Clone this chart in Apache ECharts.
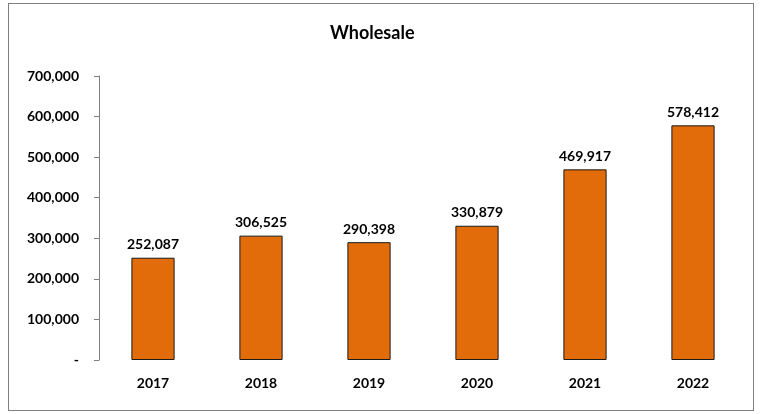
<!DOCTYPE html>
<html><head><meta charset="utf-8">
<script src="https://cdn.jsdelivr.net/npm/echarts@6/dist/echarts.min.js"></script>
<style>html,body{margin:0;padding:0;background:#fff}#c{width:760px;height:414px}
#frame{position:absolute;left:8px;top:3px;width:746px;height:408px;border:1px solid #7f7f7f;box-sizing:border-box;pointer-events:none}</style>
</head><body><div id="c"></div><div id="frame"></div>
<script>
const categories = ['2017','2018','2019','2020','2021','2022'];
const wholesale = [252087, 306525, 290398, 330879, 469917, 578412];
const yTicks = [0, 100000, 200000, 300000, 400000, 500000, 600000, 700000];
const title = 'Wholesale';
const FONT = 'Lato, "Open Sans", sans-serif';
const fmt = v => v === 0 ? '-' : v.toLocaleString('en-US');
const chart = echarts.init(document.getElementById('c'));
chart.setOption({
  animation: false,
  title: { text: title, left: 325, top: 19, textStyle: { fontFamily: FONT, fontWeight: 'bold', fontSize: 18, color: '#000' } },
  grid: { left: 99, right: 13, top: 76, bottom: 54, containLabel: false },
  xAxis: { type: 'category', data: categories,
    axisLine: { show: false }, axisTick: { show: false },
    axisLabel: { margin: 16, fontFamily: FONT, fontWeight: 'bold', fontSize: 14, color: '#000' } },
  yAxis: { type: 'value', min: yTicks[0], max: yTicks[yTicks.length-1], interval: yTicks[1]-yTicks[0],
    splitLine: { show: false },
    axisLine: { show: true, lineStyle: { color: '#7f7f7f' } },
    axisTick: { show: true, length: 5, lineStyle: { color: '#7f7f7f' } },
    axisLabel: { margin: 20, fontFamily: FONT, fontWeight: 'bold', fontSize: 14, color: '#000', formatter: fmt } },
  series: [{ type: 'bar', data: wholesale, barWidth: '40%',
    itemStyle: { color: '#e36c0a', borderColor: '#1a1a1a', borderWidth: 1 },
    label: { show: true, position: 'top', distance: 6, fontFamily: FONT, fontWeight: 'bold', fontSize: 14, color: '#000', formatter: p => fmt(p.value) } }]
});
</script></body></html>
